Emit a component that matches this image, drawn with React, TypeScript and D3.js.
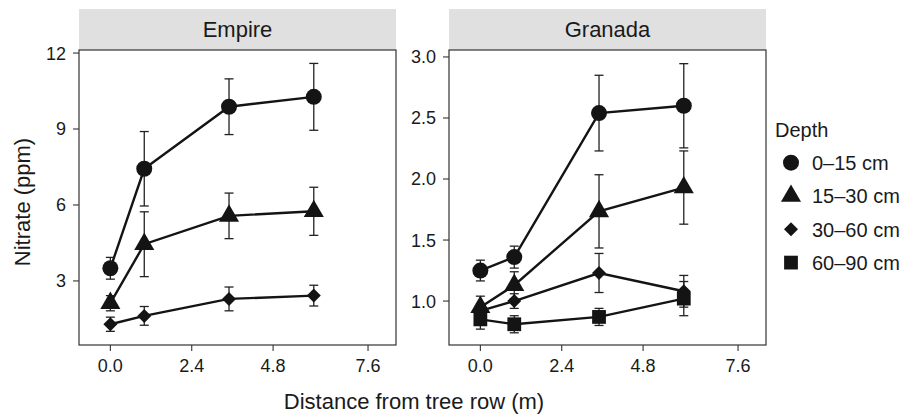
import React, { useEffect, useRef } from "react";
import * as d3 from "d3";

// distance from tree row (m) at which samples were taken
const distances = [0, 1, 3.5, 6];
const xTicks = [0, 2.4, 4.8, 7.6];
const depths = ["0–15 cm", "15–30 cm", "30–60 cm", "60–90 cm"];

// Empire: mean nitrate (ppm) and error per depth
const empire0_15 = [3.5, 7.43, 9.88, 10.27];
const empire0_15Err = [0.43, 1.47, 1.1, 1.32];
const empire15_30 = [2.12, 4.45, 5.57, 5.75];
const empire15_30Err = [0.3, 1.28, 0.9, 0.95];
const empire30_60 = [1.29, 1.62, 2.29, 2.42];
const empire30_60Err = [0.28, 0.37, 0.47, 0.41];
const empireYTicks = [3, 6, 9, 12];

// Granada
const granada0_15 = [1.25, 1.36, 2.54, 2.6];
const granada0_15Err = [0.085, 0.09, 0.31, 0.345];
const granada15_30 = [0.95, 1.13, 1.735, 1.93];
const granada15_30Err = [0.09, 0.11, 0.3, 0.3];
const granada30_60 = [0.92, 1.0, 1.23, 1.08];
const granada30_60Err = [0.06, 0.06, 0.16, 0.13];
const granada60_90 = [0.85, 0.81, 0.87, 1.02];
const granada60_90Err = [0.08, 0.07, 0.07, 0.14];
const granadaYTicks = [1.0, 1.5, 2.0, 2.5, 3.0];

const FONT = "Liberation Sans, Arial, Helvetica, sans-serif";
const INK = "#141414";

type Series = { depth: number; mean: number[]; err: number[] };

const panels = [
  {
    name: "Empire",
    left: 79,
    yDomain: [0.47, 12.12],
    yTicks: empireYTicks,
    yFormat: d3.format("d"),
    series: [
      { depth: 0, mean: empire0_15, err: empire0_15Err },
      { depth: 1, mean: empire15_30, err: empire15_30Err },
      { depth: 2, mean: empire30_60, err: empire30_60Err },
    ] as Series[],
  },
  {
    name: "Granada",
    left: 449,
    yDomain: [0.64, 3.057],
    yTicks: granadaYTicks,
    yFormat: d3.format(".1f"),
    series: [
      { depth: 0, mean: granada0_15, err: granada0_15Err },
      { depth: 1, mean: granada15_30, err: granada15_30Err },
      { depth: 2, mean: granada30_60, err: granada30_60Err },
      { depth: 3, mean: granada60_90, err: granada60_90Err },
    ] as Series[],
  },
];

const symbolFor = (depth: number): string => {
  if (depth === 0) return d3.symbol().type(d3.symbolCircle).size(Math.PI * 64)() as string;
  if (depth === 1) return d3.symbol().type(d3.symbolTriangle).size(175)() as string;
  if (depth === 2) return d3.symbol().type(d3.symbolSquare).size(98)() as string;
  return d3.symbol().type(d3.symbolSquare).size(190)() as string;
};

const width = 914;
const height = 414;
const stripTop = 9;
const panelTop = 50;
const panelBottom = 345;
const panelWidth = 317;

function NitrateChart() {
  const ref = useRef<SVGSVGElement>(null);

  useEffect(() => {
    document.body.style.margin = "0";
    if (!ref.current) return;
    const svg = d3.select(ref.current);
    svg.selectAll("*").remove();

    panels.forEach((p) => {
      const x = d3
        .scaleLinear()
        .domain([-0.925, 8.425])
        .range([p.left, p.left + panelWidth]);
      const y = d3
        .scaleLinear()
        .domain(p.yDomain)
        .range([panelBottom, panelTop]);

      const g = svg.append("g");

      // strip
      g.append("rect")
        .attr("x", p.left)
        .attr("y", stripTop)
        .attr("width", panelWidth)
        .attr("height", panelTop - stripTop)
        .attr("fill", "#e0e0e0");
      g.append("text")
        .attr("x", p.left + panelWidth / 2)
        .attr("y", (stripTop + panelTop) / 2)
        .attr("dy", "0.36em")
        .attr("text-anchor", "middle")
        .attr("font-size", 22)
        .attr("fill", "#1a1a1a")
        .text(p.name);

      // y ticks
      p.yTicks.forEach((t) => {
        g.append("line")
          .attr("x1", p.left - 6)
          .attr("x2", p.left)
          .attr("y1", y(t))
          .attr("y2", y(t))
          .attr("stroke", "#333")
          .attr("stroke-width", 1.1);
        g.append("text")
          .attr("x", p.left - 13)
          .attr("y", y(t))
          .attr("dy", "0.36em")
          .attr("text-anchor", "end")
          .attr("font-size", 18)
          .attr("fill", "#1a1a1a")
          .text(p.yFormat(t));
      });

      // x ticks
      xTicks.forEach((t) => {
        g.append("line")
          .attr("x1", x(t))
          .attr("x2", x(t))
          .attr("y1", panelBottom)
          .attr("y2", panelBottom + 6)
          .attr("stroke", "#333")
          .attr("stroke-width", 1.1);
        g.append("text")
          .attr("x", x(t))
          .attr("y", 372)
          .attr("text-anchor", "middle")
          .attr("font-size", 18)
          .attr("fill", "#1a1a1a")
          .text(d3.format(".1f")(t));
      });

      const line = d3
        .line<number>()
        .x((_, i) => x(distances[i]))
        .y((d) => y(d));

      p.series.forEach((s) => {
        g.append("path")
          .attr("d", line(s.mean) as string)
          .attr("fill", "none")
          .attr("stroke", INK)
          .attr("stroke-width", 2.4);
      });

      // error bars
      p.series.forEach((s) => {
        s.mean.forEach((m, i) => {
          const cx = x(distances[i]);
          const lo = y(m - s.err[i]);
          const hi = y(m + s.err[i]);
          g.append("line")
            .attr("x1", cx)
            .attr("x2", cx)
            .attr("y1", lo)
            .attr("y2", hi)
            .attr("stroke", "#222")
            .attr("stroke-width", 1.3);
          [lo, hi].forEach((yy) => {
            g.append("line")
              .attr("x1", cx - 4.5)
              .attr("x2", cx + 4.5)
              .attr("y1", yy)
              .attr("y2", yy)
              .attr("stroke", "#222")
              .attr("stroke-width", 1.3);
          });
        });
      });

      // points
      p.series.forEach((s) => {
        s.mean.forEach((m, i) => {
          g.append("path")
            .attr("d", symbolFor(s.depth))
            .attr("fill", INK)
            .attr(
              "transform",
              `translate(${x(distances[i])}, ${y(m)})${s.depth === 2 ? " rotate(45)" : ""}`
            );
        });
      });

      // panel border
      g.append("rect")
        .attr("x", p.left)
        .attr("y", panelTop)
        .attr("width", panelWidth)
        .attr("height", panelBottom - panelTop)
        .attr("fill", "none")
        .attr("stroke", "#333")
        .attr("stroke-width", 1.2);
    });

    // axis titles
    svg
      .append("text")
      .attr("x", 414)
      .attr("y", 409)
      .attr("text-anchor", "middle")
      .attr("font-size", 22)
      .attr("fill", "#1a1a1a")
      .text("Distance from tree row (m)");
    svg
      .append("text")
      .attr("transform", "translate(30, 202) rotate(-90)")
      .attr("text-anchor", "middle")
      .attr("font-size", 22)
      .attr("fill", "#1a1a1a")
      .text("Nitrate (ppm)");

    // legend
    const legend = svg.append("g");
    legend
      .append("text")
      .attr("x", 775)
      .attr("y", 137)
      .attr("font-size", 20)
      .attr("fill", "#1a1a1a")
      .text("Depth");
    depths.forEach((d, i) => {
      const cy = 162.7 + i * 33.3;
      legend
        .append("path")
        .attr("d", symbolFor(i))
        .attr("fill", INK)
        .attr("transform", `translate(791, ${cy})${i === 2 ? " rotate(45)" : ""}`);
      legend
        .append("text")
        .attr("x", 812)
        .attr("y", cy)
        .attr("dy", "0.36em")
        .attr("font-size", 20)
        .attr("fill", "#1a1a1a")
        .text(d);
    });
  }, []);

  return (
    <svg
      ref={ref}
      width={width}
      height={height}
      style={{ display: "block", fontFamily: FONT, background: "#fff" }}
    />
  );
}

export default function App() {
  return <NitrateChart />;
}
